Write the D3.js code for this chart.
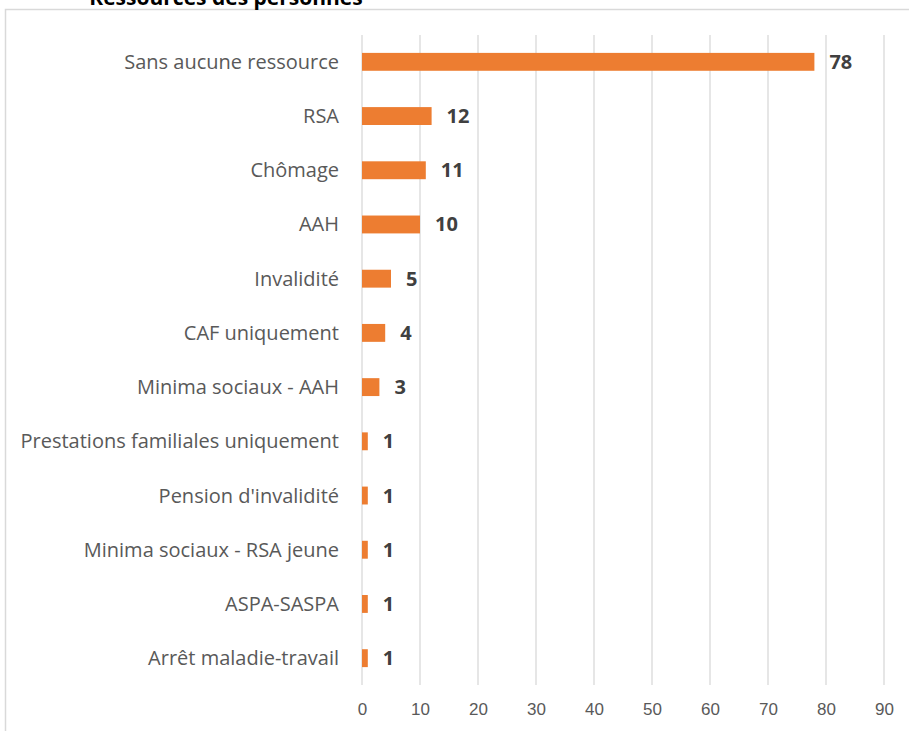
<!DOCTYPE html>
<html>
<head>
<meta charset="utf-8">
<script src="https://cdn.jsdelivr.net/npm/d3@7"></script>
<style>
  body { margin: 0; background: #fff; }
  svg { display: block; font-family: "Open Sans", sans-serif; }
  .grid line { stroke: #d9d9d9; stroke-width: 1.3; }
  .axis text { fill: #595959; font-size: 17px; }
  .cat-label { fill: #595959; font-size: 20px; }
  .val-label { fill: #404040; font-size: 20px; font-weight: bold; }
</style>
</head>
<body>
<svg width="909" height="731"></svg>
<script>
var categories = ["Sans aucune ressource", "RSA", "Chômage", "AAH", "Invalidité", "CAF uniquement",
  "Minima sociaux - AAH", "Prestations familiales uniquement", "Pension d'invalidité",
  "Minima sociaux - RSA jeune", "ASPA-SASPA", "Arrêt maladie-travail"];
var values = [78, 12, 11, 10, 5, 4, 3, 1, 1, 1, 1, 1];
var xTicks = [0, 10, 20, 30, 40, 50, 60, 70, 80, 90];

var svg = d3.select("svg");

// chart frame (cropped: only top and left edges visible)
svg.append("path")
    .attr("d", "M5.5,731 V9.5 H909")
    .attr("fill", "none")
    .attr("stroke", "#d9d9d9")
    .attr("stroke-width", 1.5);

// title, cut off at the top edge as in the source
svg.append("text")
    .attr("x", 226)
    .attr("y", 5)
    .attr("text-anchor", "middle")
    .attr("font-size", "21px")
    .attr("font-weight", "bold")
    .attr("fill", "#000")
    .text("Ressources des personnes");

var x = d3.scaleLinear().domain([0, 90]).range([362, 884]),
    y = d3.scaleBand().domain(categories).range([35, 685]).paddingInner(0.67).paddingOuter(0.33);

svg.append("g")
    .attr("class", "grid")
    .selectAll("line").data(xTicks).enter().append("line")
    .attr("x1", function(d){return x(d);})
    .attr("x2", function(d){return x(d);})
    .attr("y1", 35)
    .attr("y2", 685);

svg.append("g")
    .attr("class", "axis")
    .attr("transform", "translate(0,686)")
    .call(d3.axisBottom(x).tickValues(xTicks).tickSize(0).tickPadding(17))
    .call(function(g){ g.select(".domain").remove(); });

svg.selectAll(".bar").data(values).enter().append("rect")
    .attr("x", x(0))
    .attr("y", function(d, i){return y(categories[i]);})
    .attr("width", function(d){return x(d) - x(0);})
    .attr("height", y.bandwidth())
    .attr("fill", "#ed7d31");

svg.selectAll(".cat-label").data(categories).enter().append("text")
    .attr("class", "cat-label")
    .attr("x", 339)
    .attr("y", function(d){return y(d) + y.bandwidth() / 2;})
    .attr("dy", "0.35em")
    .attr("text-anchor", "end")
    .text(function(d){return d;});

svg.selectAll(".val-label").data(values).enter().append("text")
    .attr("class", "val-label")
    .attr("x", function(d){return x(d) + 15;})
    .attr("y", function(d, i){return y(categories[i]) + y.bandwidth() / 2;})
    .attr("dy", "0.35em")
    .text(function(d){return d;});
</script>
</body>
</html>
